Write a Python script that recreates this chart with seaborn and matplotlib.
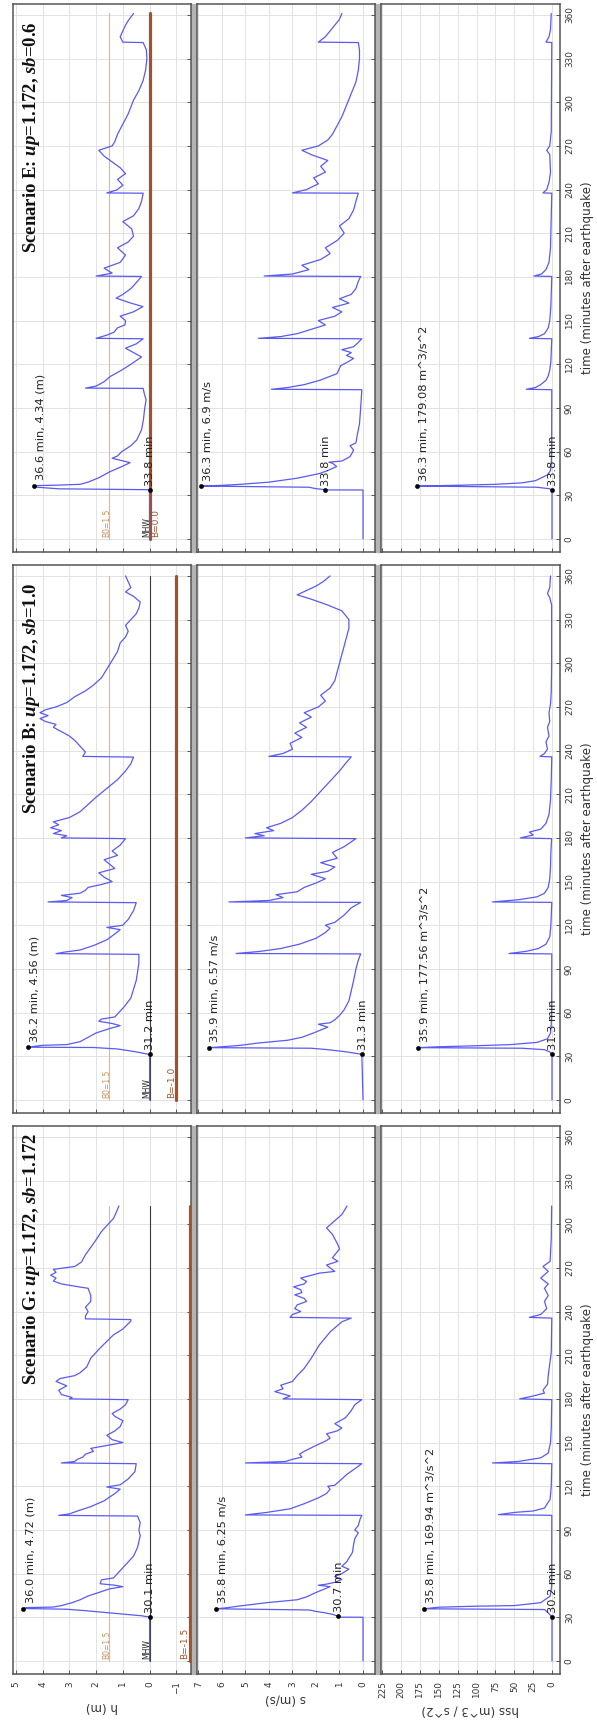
import seaborn as sns
import matplotlib.pyplot as plt
from matplotlib.patches import Rectangle

sns.set_style("whitegrid")
plt.rcParams['font.family'] = ['DejaVu Sans']
plt.rcParams['mathtext.fontset'] = 'custom'
plt.rcParams['mathtext.it'] = 'Liberation Serif:italic:bold'
plt.rcParams['mathtext.rm'] = 'Liberation Serif:bold'

# ---------------- data ----------------
# Scenario G
g_h_t = [0, 30.1, 31, 32, 33, 34.5, 35.5, 36.0, 36.6, 37, 38, 40, 42, 44.6, 47, 49.5, 51, 52, 53, 55.7, 57, 60, 62, 66, 72, 78, 86, 90, 95, 99.5,
         100, 101, 103, 106, 110, 115, 118, 119.5, 121, 125, 130, 135.5, 136, 137, 138.5, 140, 142, 144, 146, 148, 150, 152, 155, 158, 161, 165,
         168, 170, 173, 176, 179.5, 180, 181, 183, 186, 189, 192, 194, 196, 198, 202, 208, 215, 224, 228, 233.5, 234.5, 235, 237, 240, 243, 247,
         251, 256, 257, 259, 261, 263, 265, 267, 269, 270, 271, 274, 279, 288, 295, 301, 304, 308, 312.5]
g_h = [0, 0, 0.3, 0.9, 1.5, 2.4, 3.1, 4.72, 4.6, 3.6, 3.3, 2.9, 2.6, 2.3, 1.9, 1.5, 1.0, 1.3, 1.85, 1.8, 1.35, 1.2, 1.1, 0.9, 0.6, 0.45, 0.35, 0.4, 0.35, 0.45,
       3.4, 3.0, 2.7, 2.2, 1.7, 1.3, 1.1, 1.6, 1.1, 0.8, 0.55, 0.5, 3.3, 2.8, 2.7, 2.5, 2.4, 2.1, 2.2, 1.6, 1.0, 1.4, 1.6, 1.3, 1.1, 1.0,
       1.3, 1.4, 1.1, 0.9, 0.8, 3.0, 2.9, 3.3, 3.4, 3.1, 3.5, 3.35, 2.8, 2.6, 2.35, 2.2, 1.85, 1.35, 1.0, 0.7, 0.7, 2.4, 2.4, 2.3, 2.4, 2.2,
       2.2, 2.3, 2.65, 3.3, 3.6, 3.5, 3.7, 3.5, 3.6, 3.2, 2.8, 2.55, 2.4, 2.05, 1.8, 1.5, 1.35, 1.25, 1.15]
g_s_t = [0, 30, 30.05, 30.7, 32, 33, 34, 35, 35.8, 36.5, 37.6, 39, 40, 42, 44, 47, 51, 52, 52.6, 54, 56, 58, 60, 63, 65, 68, 74.5, 80, 84, 88, 90, 93,
         97.6, 100, 100.3, 102, 104.5, 108, 112, 115, 118, 120, 120.7, 125, 128, 132, 135.5, 136, 137, 138.5, 140, 142, 144, 148, 151, 153, 156,
         158, 160, 163, 167, 172, 176, 179.5, 180, 182, 185, 187, 189.4, 192, 196, 201, 208, 217, 226, 233, 235.5, 236, 238, 240, 242, 244.6,
         247, 249, 251.5, 253, 255, 257, 259, 260.7, 263, 266.4, 267.6, 270, 272, 274.5, 277, 279, 283, 286, 290, 293, 297.5, 302, 306.7, 312.5]
g_s = [0, 0, 1.07, 1.07, 1.3, 1.6, 2.0, 2.3, 6.25, 5.8, 5.3, 4.6, 4.1, 2.8, 2.4, 2.0, 1.4, 1.9, 1.6, 1.2, 0.9, 1.2, 0.9, 0.6, 0.9, 0.7, 0.45, 0.4, 0.35, 0.2, 0.35, 0.2,
       0.12, 0.05, 5.0, 4.1, 3.1, 2.5, 1.9, 1.55, 1.4, 1.5, 1.2, 0.9, 0.7, 0.35, 0.05, 5.0, 3.3, 3.0, 2.6, 2.7, 2.5, 2.0, 1.6, 1.4, 1.55,
       1.1, 0.9, 1.2, 0.75, 0.5, 0.35, 0.05, 3.4, 3.1, 3.75, 3.4, 3.5, 3.0, 2.8, 2.5, 2.2, 1.86, 1.4, 0.9, 0.5, 3.1, 3.0, 2.65, 2.9, 2.8,
       2.4, 2.5, 2.9, 2.6, 2.65, 2.95, 2.5, 2.4, 2.65, 1.86, 1.2, 1.4, 1.55, 1.07, 1.3, 1.2, 1.0, 1.07, 1.2, 1.3, 1.55, 1.23, 0.9, 0.68]
g_hss_t = [0, 30.2, 33, 35.3, 35.8, 36.9, 37.6, 38, 40, 44.5, 51, 100, 100.5, 102, 103, 105, 111, 120, 135.5, 136, 137, 139.5, 142.8, 150, 160,
           179.5, 180, 182, 184, 186, 190, 196, 212, 235.5, 236, 238, 242, 247, 251, 256, 259, 263, 267.6, 271, 274.5, 290, 312.5]
g_hss = [0, 0, 5, 10, 169.94, 150, 100, 50, 15, 2.5, 0.5, 0.3, 71, 50, 25, 10, 2.5, 1, 0.3, 79, 45, 15, 5, 2, 1,
         0.3, 43, 25, 10, 12, 6, 5, 1, 0.3, 30, 15, 7, 10, 5, 10, 5, 15, 5, 12, 2.5, 1, 0.5]

# Scenario B
b_h_t = [0, 31.2, 33, 35, 36.0, 36.2, 37.5, 38, 40, 43, 46, 49, 51, 52.5, 54, 55.5, 57, 60, 64, 70, 76, 82, 88, 94, 100, 100.5, 101.5, 103, 106,
         110, 114, 117, 118.5, 120, 124, 130, 135.5, 136, 137, 139, 140.5, 142, 144, 146, 148, 150, 153, 156, 159, 162, 165, 168, 171, 175,
         179.5, 180, 181.5, 183, 185, 187, 189, 191, 194, 198, 203, 208, 214, 220, 226, 231, 235.5, 236, 239, 243, 247, 250, 253, 256, 258,
         260, 262, 264, 266, 268, 270, 273, 277, 281, 285, 290, 296, 302, 308, 314, 318, 322, 326, 330, 334, 338, 342, 346, 349, 352, 356, 360]
b_h = [0, 0, 0.5, 1.2, 2.1, 4.56, 4.0, 3.1, 2.6, 2.3, 2.0, 1.5, 1.1, 1.4, 1.9, 1.8, 1.3, 1.15, 0.95, 0.7, 0.6, 0.5, 0.45, 0.4, 0.4, 3.5, 3.2, 2.6, 2.1,
       1.6, 1.3, 1.1, 1.6, 1.0, 0.8, 0.6, 0.5, 3.8, 3.1, 2.9, 3.3, 2.6, 2.4, 2.3, 1.8, 1.4, 1.7, 1.9, 1.3, 1.5, 1.7, 1.2, 1.4, 1.1,
       0.9, 3.3, 3.1, 3.6, 3.3, 3.7, 3.4, 3.6, 3.0, 2.6, 2.3, 2.0, 1.6, 1.2, 0.9, 0.7, 0.6, 2.5, 2.4, 2.6, 2.8, 3.0, 3.3, 3.6, 3.5,
       3.9, 4.1, 3.8, 4.1, 3.9, 3.5, 3.1, 2.8, 2.4, 2.1, 1.8, 1.6, 1.4, 1.2, 1.1, 0.9, 0.8, 0.9, 0.7, 0.5, 0.4, 0.35, 0.6, 0.9, 0.7, 0.8, 0.9]
b_s_t = [0, 31.3, 33, 34.5, 35.5, 35.9, 36.5, 37.5, 39, 41, 43, 46, 50, 52, 53, 55, 58, 62, 68, 75, 82, 90, 96, 100.3, 100.6, 102, 104, 107, 111,
         115, 118, 120, 122, 127, 132, 135.7, 136, 137, 139, 141, 143, 146, 149, 152, 155, 157, 160, 163, 166, 170, 174, 179.5, 180, 181.5, 183,
         185, 187, 190, 194, 199, 205, 212, 219, 226, 232, 235.7, 236, 238, 241, 245, 249, 252, 256, 259, 263, 266, 270, 274, 278, 283, 288,
         294, 300, 306, 312, 318, 324, 330, 336, 340, 344, 347, 350, 353, 356, 360]
b_s = [0, 0.05, 0.7, 1.5, 2.2, 6.57, 6.0, 5.2, 4.5, 3.2, 2.6, 2.1, 1.5, 1.9, 1.4, 1.2, 1.0, 0.8, 0.6, 0.5, 0.4, 0.3, 0.2, 0.1, 5.4, 4.4, 3.5, 2.7, 2.0,
       1.6, 1.4, 1.6, 1.2, 0.8, 0.5, 0.1, 5.7, 4.0, 3.4, 3.7, 2.8, 2.5, 2.0, 1.6, 2.2, 1.5, 1.2, 1.8, 1.1, 1.3, 0.8, 0.3, 5.0, 4.2, 4.6,
       3.8, 4.1, 3.5, 3.0, 2.6, 2.2, 1.8, 1.4, 1.0, 0.7, 0.5, 4.0, 3.4, 3.0, 3.1, 2.6, 2.9, 2.4, 2.7, 2.2, 2.5, 1.9, 1.6, 1.8, 1.4, 1.2,
       1.1, 1.0, 0.9, 0.8, 0.7, 0.6, 0.6, 0.9, 1.5, 2.2, 2.8, 2.4, 2.0, 1.7, 1.4]
b_hss_t = [0, 31.3, 33, 34.5, 35.5, 35.9, 36.5, 37.2, 38, 39.5, 42, 46, 52, 60, 100.3, 100.6, 102, 104, 107, 112, 120, 135.7, 136, 137.5, 139.5,
           142, 146, 152, 160, 170, 179.5, 180, 182, 184, 186, 190, 196, 206, 220, 235.7, 236, 238, 241, 246, 250, 256, 260, 266, 272, 280, 300,
           340, 345, 348, 352, 360]
b_hss = [0, 0, 3, 10, 40, 177.56, 150, 100, 55, 20, 6, 2, 1, 0.5, 0.3, 57, 35, 18, 8, 3, 1.5, 0.3, 79, 45, 20,
         10, 5, 3, 2, 1.5, 0.5, 42, 25, 30, 15, 8, 4, 2, 1, 0.3, 16, 10, 6, 8, 4, 6, 3, 4, 2, 1, 0.5,
         0.5, 3, 6, 3, 2]

# Scenario E
e_h_t = [0, 33.8, 34.4, 35.5, 36.6, 36.9, 37.5, 39, 42, 46.2, 50, 52.4, 55.4, 57, 60, 64, 68, 75, 82, 90, 95.5, 100, 103.4, 103.6, 105, 108,
         111.5, 116, 120, 125, 128, 131, 134, 137.5, 137.8, 140, 142, 145, 147, 150, 153, 156, 159.6, 162, 165.4, 168, 172, 176, 180.3, 180.6,
         182.6, 186, 190, 195, 200, 204, 208, 213, 218, 222, 227, 232, 237.5, 237.7, 239.7, 243, 247, 251, 255, 259, 263, 267, 270, 273, 278,
         285, 292, 301.5, 308, 315, 322, 330, 336, 341, 341.3, 345, 349, 353, 356, 361]
e_h = [0, 0, 3.4, 4.2, 4.34, 3.5, 2.6, 2.3, 1.9, 1.48, 1.0, 0.73, 1.4, 1.2, 1.04, 0.7, 0.48, 0.3, 0.23, 0.18, 0.13, 0.2, 0.24, 2.4, 2.0, 1.7,
       1.48, 1.04, 0.7, 0.3, 0.6, 0.9, 0.5, 0.24, 2.0, 1.6, 1.33, 1.2, 0.92, 0.9, 1.1, 0.6, 0.25, 0.7, 1.25, 1.0, 0.7, 0.5, 0.3, 2.0,
       1.4, 1.7, 1.1, 0.9, 1.2, 0.8, 0.6, 0.67, 1.0, 0.6, 0.4, 0.3, 0.24, 1.6, 1.23, 1.0, 1.2, 0.9, 1.1, 1.4, 1.7, 1.9, 1.4, 1.3, 1.2,
       1.0, 0.8, 0.6, 0.4, 0.24, 0.15, 0.1, 0.12, 0.24, 1.0, 1.1, 1.0, 0.9, 0.8, 0.6]
e_s_t = [0, 33.6, 33.65, 33.8, 34.5, 35.5, 36.3, 36.8, 37.5, 39, 41.7, 45, 47, 49.7, 52, 52.7, 53.5, 56.5, 61, 64, 66, 70.9, 79, 90, 102.5, 102.8,
         104, 106, 109, 113.6, 119, 122, 124, 126, 128, 130, 132, 135, 137.5, 137.8, 139, 141, 144, 147, 150, 153, 156, 159, 162, 165, 168,
         172, 177, 180.3, 180.6, 182, 185, 188, 192, 196, 200, 205, 210, 215, 220, 226, 232, 237.5, 237.7, 240, 244, 248, 252, 256, 260, 264,
         267, 270, 274, 278, 284, 290, 298, 306, 314, 322, 330, 336, 341, 341.3, 345, 349, 353, 357, 361]
e_s = [0, 0, 1.55, 1.6, 2.0, 2.3, 6.9, 6.0, 5.2, 4.0, 2.8, 1.83, 1.5, 1.12, 1.3, 1.45, 0.9, 0.55, 0.4, 0.55, 0.3, 0.25, 0.15, 0.1, 0.05, 3.9,
       3.2, 2.5, 1.83, 1.1, 0.95, 0.6, 0.4, 0.7, 0.5, 0.9, 0.4, 0.2, 0.05, 4.45, 3.5, 2.8, 2.2, 1.6, 1.9, 1.2, 0.9, 1.3, 0.6, 1.0, 0.5,
       0.3, 0.2, 0.1, 4.2, 3.0, 2.3, 2.6, 1.8, 1.4, 1.6, 1.1, 0.8, 1.0, 0.6, 0.4, 0.3, 0.2, 3.0, 2.4, 1.9, 2.1, 1.6, 1.8, 1.5, 2.2,
       2.6, 1.9, 1.5, 1.3, 1.1, 0.9, 0.7, 0.5, 0.3, 0.2, 0.15, 0.15, 0.2, 1.9, 1.6, 1.4, 1.2, 1.0, 0.9]
e_hss_t = [0, 33.6, 34.5, 35.5, 36.3, 36.8, 37.5, 38.5, 40, 41.7, 44, 47, 52, 60, 102.5, 102.8, 104, 106, 109, 112, 116, 122, 137.5, 137.8, 139,
           141, 145, 150, 160, 180.3, 180.6, 182, 185, 190, 200, 237.5, 237.7, 240, 245, 252, 264, 267, 270, 280, 341, 341.3, 345, 350, 361]
e_hss = [0, 0, 4, 20, 179.08, 130, 75, 40, 22, 15, 6, 2, 1, 0.5, 0.3, 34, 22, 15, 8, 5, 3, 1.5, 0.3, 30, 18,
         10, 5, 3, 1.5, 0.3, 24, 14, 8, 4, 2, 0.3, 12, 7, 4, 2, 3, 7, 3, 1, 0.3, 8, 4, 2, 1]

scenario_names = ["E", "B", "G"]
scenario_titles = {"G": "Scenario G: $up$=1.172, $sb$=1.172",
                   "B": "Scenario B: $up$=1.172, $sb$=1.0",
                   "E": "Scenario E: $up$=1.172, $sb$=0.6"}
bed_level = {"G": -1.5, "B": -1.0, "E": 0.0}
bed_label = {"G": "B=-1.5", "B": "B=-1.0", "E": "B=0.0"}
b0_level = 1.5

# peaks and arrivals: (time, value, label)
peaks = {
    "G": [(36.0, 4.72, "36.0 min, 4.72 (m)"), (35.8, 6.25, "35.8 min, 6.25 m/s"), (35.8, 169.94, "35.8 min, 169.94 m^3/s^2")],
    "B": [(36.2, 4.56, "36.2 min, 4.56 (m)"), (35.9, 6.57, "35.9 min, 6.57 m/s"), (35.9, 177.56, "35.9 min, 177.56 m^3/s^2")],
    "E": [(36.6, 4.34, "36.6 min, 4.34 (m)"), (36.3, 6.9, "36.3 min, 6.9 m/s"), (36.3, 179.08, "36.3 min, 179.08 m^3/s^2")],
}
arrivals = {
    "G": [(30.1, 0.0, "30.1 min"), (30.7, 1.07, "30.7 min"), (30.2, 0.0, "30.2 min")],
    "B": [(31.2, 0.0, "31.2 min"), (31.3, 0.05, "31.3 min"), (31.3, 0.0, "31.3 min")],
    "E": [(33.8, 0.0, "33.8 min"), (33.8, 1.6, "33.8 min"), (33.8, 0.0, "33.8 min")],
}

series = {
    "G": [(g_h_t, g_h), (g_s_t, g_s), (g_hss_t, g_hss)],
    "B": [(b_h_t, b_h), (b_s_t, b_s), (b_hss_t, b_hss)],
    "E": [(e_h_t, e_h), (e_s_t, e_s), (e_hss_t, e_hss)],
}

var_labels = ["h (m)", "s (m/s)", "hss (m^3 / s^2)"]
var_ticks = [list(range(-1, 6)), list(range(0, 8)), list(range(0, 226, 25))]
var_lims = [(5.11, -1.55), (7.06, -0.51), (226.8, -10.6)]
time_ticks = list(range(0, 361, 30))

# ---------------- layout (pixels of the 597x1726 image) ----------------
W, H = 597, 1726
col_x = [(13, 191), (197, 375), (381, 560)]
stack_y = {"E": (4, 552), "B": (565, 1113), "G": (1126, 1674)}

fig = plt.figure(figsize=(W / 100, H / 100), dpi=100)
fig.patch.set_facecolor("white")

line_col = "#5a5af0"

for sc in scenario_names:
    y0, y1 = stack_y[sc]
    # gray strips between the panels
    for gx0, gx1 in [(191, 197), (375, 381)]:
        fig.add_artist(Rectangle((gx0 / W, 1 - y1 / H), (gx1 - gx0) / W, (y1 - y0) / H,
                                 transform=fig.transFigure, color="#b4b4b4", zorder=0))
    for j in range(3):
        x0, x1 = col_x[j]
        ax = fig.add_axes([x0 / W, 1 - y1 / H, (x1 - x0) / W, (y1 - y0) / H])
        t, v = series[sc][j]
        t_end = t[-1]

        if j == 0:
            # reference lines in the h panel
            ax.plot([b0_level, b0_level], [0, t_end], color="#e2b58a", lw=0.8, zorder=2)
            ax.plot([0, 0], [0, t_end], color="#3a3a3a", lw=0.8, zorder=2)
            bl = bed_level[sc]
            ax.plot([bl, bl], [0, t_end], color="#a0522d", lw=2.3, zorder=3)
            ax.text(b0_level + 0.12, 1, "B0=1.5", rotation=90, ha="center", va="bottom",
                    fontsize=5.5, color="#c8905a", zorder=4)
            ax.text(0.12, 1, "MHW", rotation=90, ha="center", va="bottom",
                    fontsize=5.5, color="#222222", zorder=4)
            # keep the bed label clear of the MHW label when both sit at h=0
            bx = bl + 0.17 if bl < -0.5 else bl - 0.22
            ax.text(bx, 1, bed_label[sc], rotation=90, ha="center", va="bottom",
                    fontsize=6.5, color="#a0522d", zorder=4)
            ax.text(4.4, 276, scenario_titles[sc], rotation=90, ha="center", va="center",
                    fontsize=13.5, fontweight="bold", family="Liberation Serif", color="#111111", zorder=5)

        sns.lineplot(x=v, y=t, sort=False, estimator=None, ax=ax, color=line_col, lw=0.9, zorder=4)

        pt, pv, plab = peaks[sc][j]
        at, av, alab = arrivals[sc][j]
        sns.scatterplot(x=[pv, av], y=[pt, at], ax=ax, color="black", s=10, edgecolor=None, zorder=6)
        ax.annotate(plab, xy=(pv, pt), xytext=(5, 4), textcoords="offset points", rotation=90,
                    ha="center", va="bottom", fontsize=8.2, color="#222222", zorder=6)
        ax.annotate(alab, xy=(av, at), xytext=(0.5, 3), textcoords="offset points", rotation=90,
                    ha="center", va="bottom", fontsize=8.2, color="#222222", zorder=6)

        ax.set_xlim(*var_lims[j])
        ax.set_ylim(-9, 367.5)
        ax.set_xticks(var_ticks[j])
        ax.set_yticks(time_ticks)
        ax.grid(True, color="#e2e2e2", lw=0.7)
        ax.set_axisbelow(True)
        for sp in ax.spines.values():
            sp.set_color("#555555")
            sp.set_linewidth(1.1)
        ax.tick_params(axis="both", direction="in", length=3, width=0.7, colors="#555555",
                       labelcolor="#333333", labelsize=6.4)
        ax.tick_params(axis="y", left=False, right=True, labelleft=False,
                       labelright=(j == 2), labelrotation=90, pad=3.5)
        ax.tick_params(axis="x", bottom=True, top=False, labelbottom=(sc == "G"),
                       labelrotation=90, pad=5)
        for lab in ax.get_yticklabels():
            lab.set_verticalalignment("center")

        ax.set_xlabel(var_labels[j] if sc == "G" else "", rotation=180, fontsize=8.6, color="#333333")
        if j == 2:
            ax.yaxis.set_label_position("right")
            ax.set_ylabel("time (minutes after earthquake)", rotation=90, fontsize=8.6,
                          color="#333333", labelpad=5)
        else:
            ax.set_ylabel("")

fig.savefig("out.png", dpi=100, facecolor="white")
